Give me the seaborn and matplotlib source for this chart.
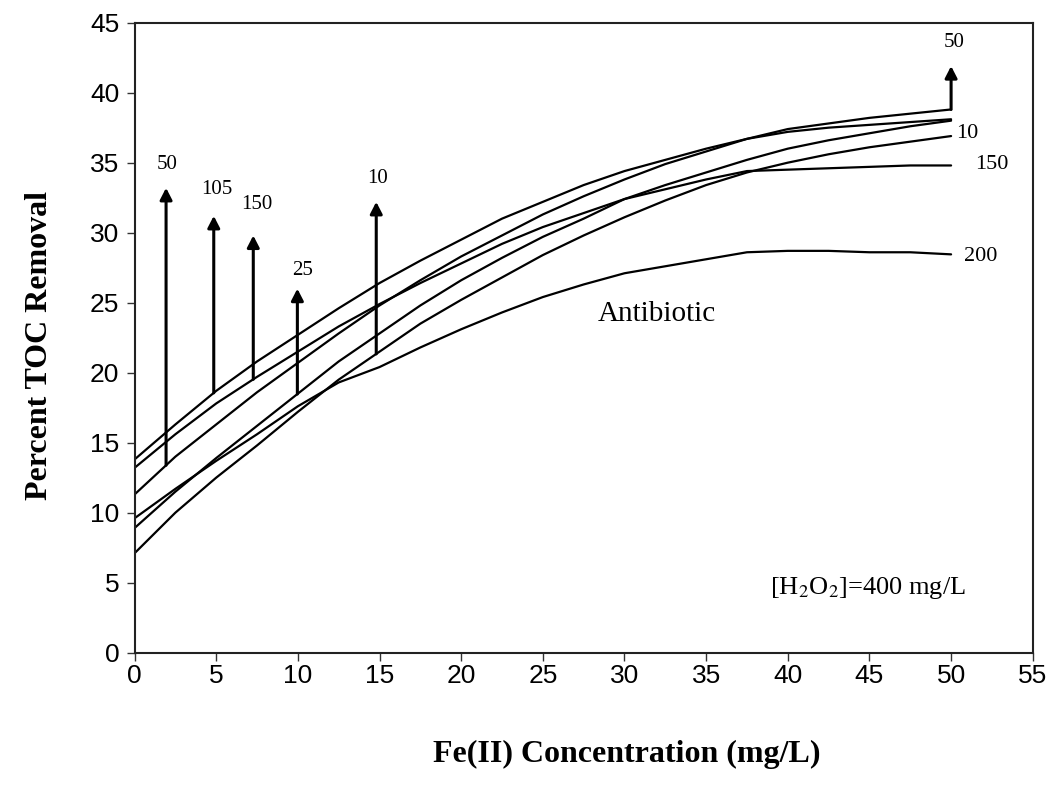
import numpy as np
import pandas as pd
import matplotlib
matplotlib.use("Agg")
import matplotlib.pyplot as plt
import seaborn as sns

# Fe(II) dose (mg/L) and percent TOC removal for each antibiotic concentration
fe_dose = [0, 2.5, 5, 7.5, 10, 12.5, 15, 17.5, 20, 22.5, 25,
           27.5, 30, 32.5, 35, 37.5, 40, 42.5, 45, 47.5, 50]

toc_105 = [13.8, 16.3, 18.7, 20.8, 22.7, 24.6, 26.4, 28.0, 29.5, 31.0, 32.2,
           33.4, 34.4, 35.2, 36.0, 36.7, 37.2, 37.5, 37.7, 37.9, 38.1]
toc_150 = [13.2, 15.6, 17.8, 19.7, 21.5, 23.3, 24.9, 26.4, 27.8, 29.2, 30.4,
           31.4, 32.4, 33.1, 33.8, 34.4, 34.5, 34.6, 34.7, 34.8, 34.8]
toc_50 = [11.3, 14.0, 16.3, 18.6, 20.7, 22.8, 24.8, 26.6, 28.3, 29.8, 31.3,
          32.6, 33.8, 34.9, 35.8, 36.7, 37.4, 37.8, 38.2, 38.5, 38.8]
toc_25 = [8.9, 11.5, 13.9, 16.2, 18.5, 20.8, 22.8, 24.8, 26.6, 28.2, 29.7,
          31.0, 32.4, 33.4, 34.3, 35.2, 36.0, 36.6, 37.1, 37.6, 38.0]
toc_10 = [7.1, 10.0, 12.5, 14.8, 17.2, 19.5, 21.5, 23.5, 25.2, 26.8, 28.4,
          29.8, 31.1, 32.3, 33.4, 34.3, 35.0, 35.6, 36.1, 36.5, 36.9]
toc_200 = [9.6, 11.7, 13.7, 15.6, 17.6, 19.3, 20.4, 21.8, 23.1, 24.3, 25.4,
           26.3, 27.1, 27.6, 28.1, 28.6, 28.7, 28.7, 28.6, 28.6, 28.45]

series_names = ["105", "150", "50", "25", "10", "200"]
series_values = [toc_105, toc_150, toc_50, toc_25, toc_10, toc_200]

x_ticks = [0, 5, 10, 15, 20, 25, 30, 35, 40, 45, 50, 55]
y_ticks = [0, 5, 10, 15, 20, 25, 30, 35, 40, 45]

df = pd.DataFrame({
    "fe": np.tile(fe_dose, len(series_names)),
    "toc": np.concatenate(series_values),
    "antibiotic": np.repeat(series_names, len(fe_dose)),
})

sns.set_style("white")
plt.rcParams["font.family"] = ["Liberation Sans", "DejaVu Sans"]
plt.rcParams["mathtext.fontset"] = "stix"
plt.rcParams["text.color"] = "black"
plt.rcParams["axes.labelcolor"] = "black"
plt.rcParams["xtick.color"] = "black"
plt.rcParams["ytick.color"] = "black"

fig = plt.figure(figsize=(10.52, 7.87), dpi=100)
ax = fig.add_axes([0.1279, 0.1707, 0.8538, 0.8005])

sns.lineplot(data=df, x="fe", y="toc", hue="antibiotic", units="antibiotic",
             estimator=None, palette=["black"] * len(series_names),
             linewidth=1.6, legend=False, ax=ax)

ax.set_xlim(0, 55)
ax.set_ylim(0, 45)
ax.set_xticks(x_ticks)
ax.set_yticks(y_ticks)
ax.tick_params(axis="both", which="major", direction="out", length=6,
               width=1.0, color="#333333", labelcolor="black", labelsize=19,
               bottom=True, left=True, top=False, right=False)
ax.tick_params(axis="x", pad=2)
ax.tick_params(axis="y", pad=5)
for s in ax.spines.values():
    s.set_color("#222222")
    s.set_linewidth(1.5)

serif = ["Liberation Serif", "DejaVu Serif"]
ax.set_xlabel("Fe(II) Concentration (mg/L)", fontsize=23, fontweight="bold",
              family=serif, va="center", color="black")
ax.set_ylabel("Percent TOC Removal", fontsize=23, fontweight="bold",
              family=serif, va="center", color="black")
ax.xaxis.set_label_coords(0.548, -0.162)
ax.yaxis.set_label_coords(-0.106, 0.488)

# arrows rising from a curve toward its concentration label
arrow_style = dict(arrowstyle="-|>,head_length=0.35,head_width=0.18",
                   mutation_scale=20, lw=2.2, color="black",
                   shrinkA=0, shrinkB=0)
arrows = [  # (series, x on curve, arrow tip y, label x, label y)
    ("50", 1.93, 33.2, 2.0, 34.9),
    ("105", 4.85, 31.2, 5.06, 33.05),
    ("150", 7.27, 29.8, 7.5, 32.0),
    ("25", 9.97, 26.0, 10.3, 27.3),
    ("10", 14.8, 32.2, 14.9, 33.9),
    ("50", 50.0, 41.9, 50.2, 43.6),
]
lookup = dict(zip(series_names, series_values))
for name, xa, tip, lx, ly in arrows:
    base = np.interp(xa, fe_dose, lookup[name])
    ax.annotate("", xy=(xa, tip), xytext=(xa, base), arrowprops=arrow_style)
    ax.text(lx, ly, name, ha="center", va="center", fontsize=15, family=serif)

# end-of-curve labels
ax.text(50.3, 37.1, "10", ha="left", va="center", fontsize=16, family=serif)
ax.text(51.5, 34.9, "150", ha="left", va="center", fontsize=16, family=serif)
ax.text(50.8, 28.3, "200", ha="left", va="center", fontsize=16, family=serif)

ax.text(32.0, 24.2, "Antibiotic", ha="center", va="center", fontsize=21,
        family=serif)
ax.text(44.9, 4.6, r"[H$_2$O$_2$]=400 mg/L", ha="center", va="center",
        fontsize=19, family=serif)

fig.savefig("out.png", dpi=100, facecolor="white")
